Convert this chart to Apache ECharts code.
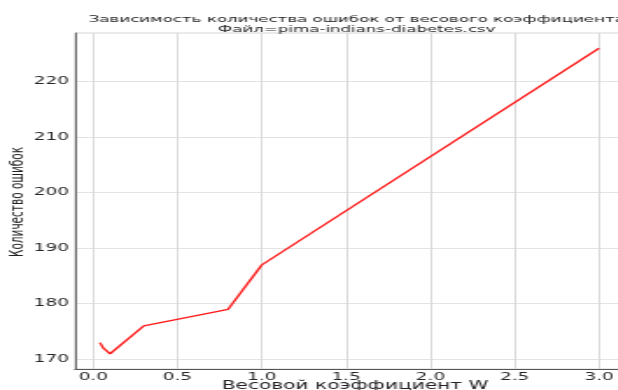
<!DOCTYPE html>
<html>
<head>
<meta charset="utf-8">
<script src="https://cdn.jsdelivr.net/npm/echarts@6/dist/echarts.min.js"></script>
<style>
  html, body { margin: 0; padding: 0; width: 618px; height: 390px; overflow: hidden; background: #fff; }
  /* the figure is laid out narrow and widened horizontally */
  #chart { width: 360px; height: 390px; transform: scaleX(1.75); transform-origin: 0 0; }
</style>
</head>
<body>
<div id="chart"></div>
<script>
const weights = [0.04, 0.06, 0.1, 0.3, 0.8, 1.0, 3.0];
const errors = [173, 172, 171, 176, 179, 187, 226];
const xTicks = [0.0, 0.5, 1.0, 1.5, 2.0, 2.5, 3.0];
const yTicks = [170, 180, 190, 200, 210, 220];
const titleLines = ['Зависимость количества ошибок от весового коэффициента', 'Файл=pima-indians-diabetes.csv'];
const xName = 'Весовой коэффициент W';
const yName = 'Количество ошибок';

const SX = 1.75;            // horizontal widening factor
const font = 'DejaVu Sans';

const chart = echarts.init(document.getElementById('chart'));
const gridLeft = 75 / SX, gridWidth = 549 / SX;

chart.setOption({
  animation: false,
  title: {
    text: titleLines.join('\n'),
    left: 348 / SX,
    top: 10,
    textAlign: 'center',
    textStyle: { fontFamily: font, fontSize: 9.5, fontWeight: 'normal', color: '#222', lineHeight: 9.5 }
  },
  grid: {
    left: gridLeft, top: 33, width: gridWidth, height: 336,
    show: true, borderColor: '#d6d6d6', borderWidth: 1, backgroundColor: 'transparent'
  },
  xAxis: {
    type: 'value',
    min: -0.108, max: 3.148,
    axisLine: { show: true, onZero: false, lineStyle: { color: '#555', width: 1 } },
    axisTick: { show: false, customValues: xTicks },
    axisLabel: {
      customValues: xTicks, margin: 3,
      fontFamily: font, fontSize: 10.5, color: '#262626',
      formatter: v => v.toFixed(1)
    },
    splitLine: { show: true, lineStyle: { color: '#d9d9d9', width: 1 } }
  },
  yAxis: {
    type: 'value',
    min: 168.25, max: 228.75,
    axisLine: { show: true, onZero: false, lineStyle: { color: '#666', width: 1 } },
    axisTick: { show: false, customValues: yTicks },
    axisLabel: {
      customValues: yTicks, margin: 3.5,
      fontFamily: font, fontSize: 10.5, color: '#262626'
    },
    splitLine: { show: true, lineStyle: { color: '#e3e3e3', width: 1 } }
  },
  graphic: [
    {
      type: 'text', x: 355 / SX, y: 386,
      style: { text: xName, fontFamily: font, fontSize: 11.5, fill: '#222', align: 'center', verticalAlign: 'middle' }
    },
    {
      type: 'text', x: 18.4 / SX, y: 202, rotation: Math.PI / 2,
      style: { text: yName, fontFamily: font, fontSize: 10.5, fill: '#222', align: 'center', verticalAlign: 'middle' }
    }
  ],
  series: [{
    type: 'line',
    data: weights.map((w, i) => [w, errors[i]]),
    showSymbol: false,
    lineStyle: { color: '#ff1a1a', width: 1.4 },
    z: 5
  }]
});
</script>
</body>
</html>
